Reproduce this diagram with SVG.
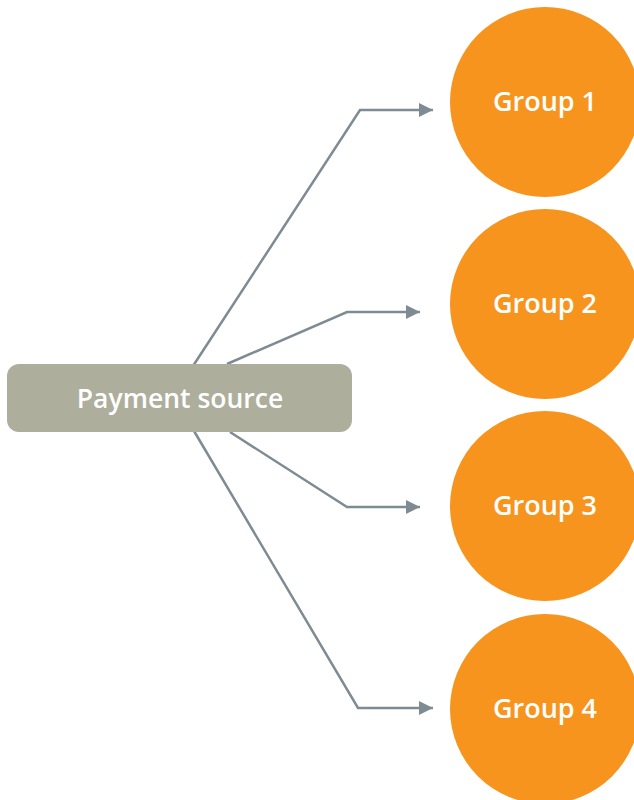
<svg xmlns="http://www.w3.org/2000/svg" width="634" height="800" viewBox="0 0 634 800">
<style>
.grp{fill:#f7941e}
.src{fill:#adae9b}
.lbl{font-family:"Open Sans","Liberation Sans",sans-serif;font-weight:600;fill:#ffffff;text-anchor:middle}
.conn{fill:none;stroke:#7f8b93;stroke-width:2.5}
</style>
<defs>
<marker id="arr" viewBox="0 0 10 10" refX="10" refY="5" markerWidth="20" markerHeight="14" markerUnits="userSpaceOnUse" orient="auto">
<path d="M0,0 L10,5 L0,10 Z" fill="#7f8b93"/>
</marker>
</defs>
<rect width="634" height="800" fill="#ffffff"/>
<g id="connectors">
<polyline class="conn" points="193,366 360,110 433,110" marker-end="url(#arr)"/>
<polyline class="conn" points="227,364 347,312 420,312" marker-end="url(#arr)"/>
<polyline class="conn" points="230,432 347,507 420,507" marker-end="url(#arr)"/>
<polyline class="conn" points="194,431 358,708 433,708" marker-end="url(#arr)"/>
</g>
<g id="payment-source">
<rect class="src" x="7" y="364" width="345" height="68" rx="12"/>
<text class="lbl" x="180" y="408" font-size="26.5">Payment source</text>
</g>
<g id="group1">
<circle class="grp" cx="545" cy="102" r="95"/>
<text class="lbl" x="545" y="111" font-size="27">Group 1</text>
</g>
<g id="group2">
<circle class="grp" cx="545" cy="304" r="95"/>
<text class="lbl" x="545" y="313" font-size="27">Group 2</text>
</g>
<g id="group3">
<circle class="grp" cx="545" cy="506" r="95"/>
<text class="lbl" x="545" y="515" font-size="27">Group 3</text>
</g>
<g id="group4">
<circle class="grp" cx="545" cy="709" r="95"/>
<text class="lbl" x="545" y="718" font-size="27">Group 4</text>
</g>
</svg>
